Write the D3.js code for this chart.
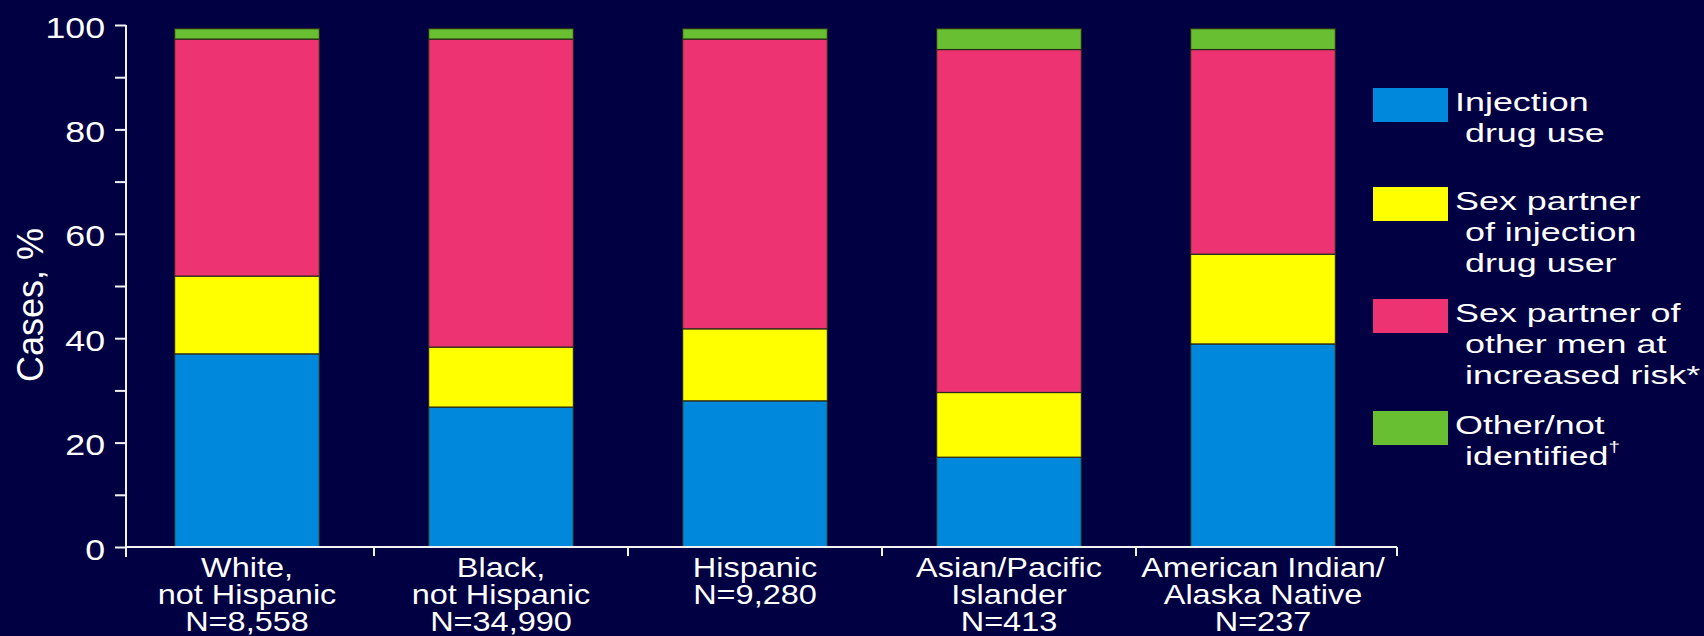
<!DOCTYPE html>
<html>
<head>
<meta charset="utf-8">
<script src="https://cdn.jsdelivr.net/npm/d3@7"></script>
<style>
  html, body { margin: 0; padding: 0; background: #000042; }
  svg { display: block; }
  text { font-family: "Liberation Sans", Arial, sans-serif; fill: #ffffff; white-space: pre; }
</style>
</head>
<body>
<svg id="chart" width="1704" height="636"></svg>
<script>
// ---- data ----
const categories = ["White, not Hispanic", "Black, not Hispanic", "Hispanic", "Asian/Pacific Islander", "American Indian/Alaska Native"];
const categoryLines = [
  ["White,", "not Hispanic", "N=8,558"],
  ["Black,", "not Hispanic", "N=34,990"],
  ["Hispanic", "N=9,280"],
  ["Asian/Pacific", "Islander", "N=413"],
  ["American Indian/", "Alaska Native", "N=237"]
];
const injectionDrugUse   = [37.0, 26.8, 28.0, 17.2, 38.9];
const partnerOfIDU       = [14.9, 11.5, 13.8, 12.4, 17.2];
const partnerOfMenAtRisk = [45.4, 59.0, 55.5, 65.7, 39.2];
const otherNotIdentified = [2.0, 2.0, 2.0, 4.0, 4.0];
const seriesKeys = ["idu", "sexidu", "msmrisk", "other"];
const legendLines = [
  ["Injection", " drug use"],
  ["Sex partner", " of injection", " drug user"],
  ["Sex partner of", " other men at", " increased risk*"],
  ["Other/not", " identified"]
];
const legendSup = ["", "", "", "\u2020"];
const yTickValues = [0, 10, 20, 30, 40, 50, 60, 70, 80, 90, 100];
const yTickLabels = ["0", "", "20", "", "40", "", "60", "", "80", "", "100"];

// ---- layout ----
const colors = { idu: "#0088dd", sexidu: "#ffff00", msmrisk: "#ee3372", other: "#68bf32" };
const svg = d3.select("#chart");
const axisX0 = 126, axisX1 = 1397, axisY0 = 547;

const rows = categories.map((c, i) => ({
  cat: c, idu: injectionDrugUse[i], sexidu: partnerOfIDU[i],
  msmrisk: partnerOfMenAtRisk[i], other: otherNotIdentified[i]
}));

const x = d3.scaleBand().domain(categories).range([120, 1390]).paddingInner(0.43).paddingOuter(0.215);
const y = d3.scaleLinear().domain([0, 100]).range([axisY0, 25]);

const stacked = d3.stack().keys(seriesKeys)(rows);

// bars
svg.append("g").selectAll("g").data(stacked).join("g")
  .attr("fill", d => colors[d.key])
  .selectAll("rect").data(d => d).join("rect")
  .attr("x", d => x(d.data.cat))
  .attr("width", x.bandwidth())
  .attr("y", d => y(d[1]))
  .attr("height", d => y(d[0]) - y(d[1]))
  .attr("stroke", "#2a2a1a")
  .attr("stroke-width", 1.2);

// y axis
const yAxis = svg.append("g").attr("transform", `translate(${axisX0},0)`)
  .call(d3.axisLeft(y).tickValues(yTickValues).tickSize(11)
    .tickFormat((d, i) => yTickLabels[i]));
yAxis.select(".domain").remove();
yAxis.selectAll(".tick line").attr("stroke", "#f2f2f2").attr("stroke-width", 2);
const sxTick = 1.19;
yAxis.selectAll(".tick text")
  .attr("fill", "#ffffff")
  .style("font-size", "30px")
  .attr("text-anchor", "end")
  .attr("x", -21 / sxTick)
  .attr("dy", null)
  .attr("y", 12)
  .attr("transform", `scale(${sxTick},1)`);
svg.append("line")
  .attr("x1", axisX0).attr("x2", axisX0)
  .attr("y1", y(100)).attr("y2", axisY0 + 10)
  .attr("stroke", "#f2f2f2").attr("stroke-width", 2);

// x axis
svg.append("line")
  .attr("x1", axisX0).attr("x2", axisX1)
  .attr("y1", axisY0).attr("y2", axisY0)
  .attr("stroke", "#f2f2f2").attr("stroke-width", 2.2);
const boundaries = categories.slice(0, -1).map(c => x(c) + x.bandwidth() + (x.step() - x.bandwidth()) / 2);
boundaries.push(axisX1);
svg.append("g").selectAll("line").data(boundaries).join("line")
  .attr("x1", d => d).attr("x2", d => d)
  .attr("y1", axisY0).attr("y2", axisY0 + 9)
  .attr("stroke", "#f2f2f2").attr("stroke-width", 2);

// x labels
const sxCat = 1.16;
const catG = svg.append("g").selectAll("g").data(categories).join("g");
catG.each(function (c, i) {
  const g = d3.select(this);
  const cx = x(c) + x.bandwidth() / 2;
  categoryLines[i].forEach((line, j) => {
    g.append("text")
      .attr("transform", `translate(${cx},${577 + j * 27}) scale(${sxCat},1)`)
      .attr("text-anchor", "middle")
      .style("font-size", "28px")
      .text(line);
  });
});

// y title
svg.append("text")
  .attr("transform", "translate(43,305) rotate(-90)")
  .attr("text-anchor", "middle")
  .style("font-size", "36px")
  .text("Cases, %");

// legend (item tops follow the number of text lines above them)
const sxLeg = 1.38;
const cumLines = [0];
legendLines.forEach((l, i) => { if (i > 0) cumLines.push(cumLines[i - 1] + legendLines[i - 1].length); });
const legendTop = (i) => 88 + 13 * cumLines[i] + 73 * i;
const leg = svg.append("g").selectAll("g").data(seriesKeys).join("g")
  .attr("transform", (d, i) => `translate(1373,${legendTop(i)})`);
leg.append("rect")
  .attr("width", 75).attr("height", 34)
  .attr("fill", d => colors[d]);
leg.each(function (k, i) {
  const g = d3.select(this);
  legendLines[i].forEach((line, j) => {
    const t = g.append("text")
      .attr("transform", `translate(82,${23 + j * 31}) scale(${sxLeg},1)`)
      .style("font-size", "26px")
      .text(line);
    if (j === legendLines[i].length - 1 && legendSup[i]) {
      t.append("tspan").attr("dy", -13).style("font-size", "15px").text(legendSup[i]);
    }
  });
});
</script>
</body>
</html>
